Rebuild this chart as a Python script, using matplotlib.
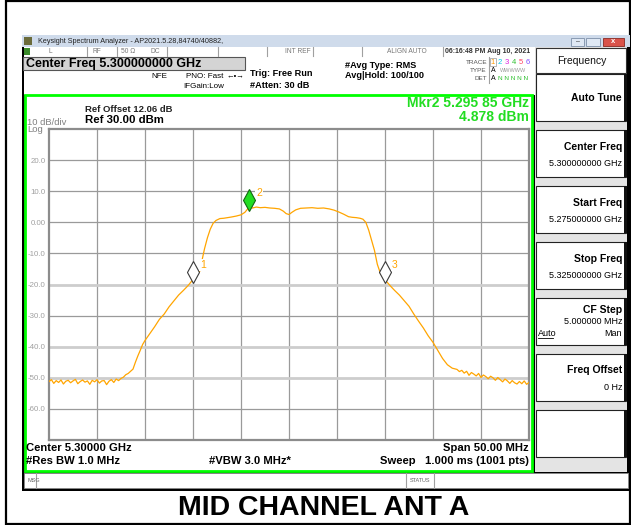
import matplotlib
matplotlib.use("Agg")
import matplotlib.pyplot as plt
from matplotlib.patches import Rectangle
from matplotlib.transforms import ScaledTranslation

plt.rcParams['font.family'] = ['Liberation Sans', 'DejaVu Sans']

# trace (MHz, dBm)
trace_freq_mhz = [
    5275.00, 5275.25, 5275.50, 5275.75, 5276.00, 5276.25, 5276.50, 5276.75,
    5277.00, 5277.25, 5277.50, 5277.75, 5278.00, 5278.25, 5278.50, 5278.75,
    5279.00, 5279.25, 5279.50, 5279.75, 5280.00, 5280.25, 5280.50, 5280.75,
    5281.00, 5281.25, 5281.50, 5281.75, 5282.00, 5282.25,
    5282.50, 5282.75, 5283.00, 5283.25, 5283.50, 5283.75, 5284.00, 5284.25,
    5284.50, 5284.75, 5285.00, 5285.50, 5286.00, 5286.50, 5287.00, 5287.50,
    5288.00, 5288.50, 5289.00, 5289.50, 5290.00, 5290.30, 5290.50, 5290.70,
    5290.90, 5291.20, 5291.50, 5291.80, 5292.10, 5292.40, 5292.80, 5293.20,
    5293.60, 5294.00, 5294.50, 5295.00, 5295.40, 5295.85, 5296.20, 5296.60,
    5297.00, 5297.50, 5298.00, 5298.50, 5299.00, 5299.40, 5299.70, 5300.00,
    5300.30, 5300.70, 5301.20, 5301.80, 5302.40, 5303.00, 5303.60, 5304.20,
    5304.70, 5305.20, 5305.70, 5306.20, 5306.60, 5307.00, 5307.40, 5307.70,
    5308.00, 5308.30, 5308.60, 5308.90, 5309.20, 5309.50, 5309.80, 5310.00,
    5310.30, 5310.60, 5311.00, 5311.50, 5312.00, 5312.50, 5313.00, 5313.50,
    5314.00, 5314.50, 5315.00, 5315.50, 5316.00, 5316.50, 5317.00, 5317.50,
    5317.75, 5318.00, 5318.25, 5318.50, 5318.75, 5319.00, 5319.25, 5319.50,
    5319.75, 5320.00, 5320.25, 5320.50, 5320.75, 5321.00, 5321.25, 5321.50,
    5321.75, 5322.00, 5322.25, 5322.50, 5322.75, 5323.00, 5323.25, 5323.50,
    5323.75, 5324.00, 5324.25, 5324.50, 5324.75, 5325.00,
]
trace_level_dbm = [
    -51.2, -50.6, -51.8, -50.9, -51.5, -50.7, -52.0, -51.1,
    -50.8, -51.6, -51.0, -50.5, -51.9, -51.2, -50.7, -51.4,
    -51.0, -52.1, -50.8, -51.3, -50.6, -51.7, -51.0, -50.9,
    -52.2, -51.1, -50.6, -51.5, -50.4, -50.9,
    -50.2, -49.8, -49.0, -48.6, -47.9, -47.2, -45.0, -43.0,
    -41.2, -39.3, -38.0, -35.8, -33.6, -31.2, -29.5, -27.2,
    -25.3, -23.4, -21.9, -20.3, -18.4, -17.6, -16.2, -15.8,
    -12.8, -8.5, -5.0, -2.2, -0.3, 0.6, 1.2, 1.3,
    1.5, 1.7, 2.0, 2.4, 3.2, 4.88, 4.6, 4.9,
    4.7, 4.8, 4.6, 4.5, 4.3, 3.6, 2.8, 2.5,
    3.2, 4.0, 4.5, 4.6, 4.7, 4.5, 4.6, 4.3,
    3.9, 3.3, 2.6, 1.8, 1.6, 1.5, 1.3, 1.0,
    0.0, -2.5, -5.8, -9.0, -13.5, -16.2, -17.8, -18.5,
    -19.5, -20.6, -21.9, -23.4, -25.2, -27.0, -29.5, -31.8,
    -34.0, -36.5, -38.6, -41.2, -43.8, -45.8, -46.9, -47.3,
    -48.0, -47.6, -48.5, -47.9, -49.2, -48.3, -48.8, -49.4,
    -48.6, -49.9, -49.1, -49.6, -50.3, -49.5, -50.0, -50.8,
    -49.9, -50.6, -51.3, -50.4, -51.0, -51.8, -50.9, -51.6,
    -52.0, -51.2, -51.9, -51.0, -52.1, -51.5,
]

marker_ids = ['1', '2', '3']
marker_freq_mhz = [5290.00, 5295.85, 5310.00]
marker_level_dbm = [-18.4, 4.878, -18.5]
marker_colors = ['white', '#22dd22', 'white']

y_ticks = [-70, -60, -50, -40, -30, -20, -10, 0, 10, 20, 30]
y_tick_labels = ['', '-60.0', '-50.0', '-40.0', '-30.0', '-20.0', '-10.0', '0.00', '10.0', '20.0', '']
x_ticks = [5275, 5280, 5285, 5290, 5295, 5300, 5305, 5310, 5315, 5320, 5325]
light_lines = [-20, -40, -50]

softkeys = [
    ('Center Freq', '5.300000000 GHz'),
    ('Start Freq', '5.275000000 GHz'),
    ('Stop Freq', '5.325000000 GHz'),
]

W, H = 631, 525
fig = plt.figure(figsize=(W / 100, H / 100), dpi=100)
fig.patch.set_facecolor('white')

bg = fig.add_axes([0, 0, 1, 1])
bg.set_xlim(0, W)
bg.set_ylim(H, 0)
bg.axis('off')


def box(x0, y0, x1, y1, fc='white', ec='none', lw=1.0, z=1):
    bg.add_patch(Rectangle((x0, y0), x1 - x0, y1 - y0, facecolor=fc,
                           edgecolor=ec, linewidth=lw, zorder=z))


def txt(x, y, s, size=6, ha='left', weight='normal', color='black', z=5):
    bg.text(x, y, s, fontsize=size, ha=ha, va='center', fontweight=weight,
            color=color, zorder=z)


def vline(x, y0, y1, color='#a0a0a0', lw=0.8):
    bg.plot([x, x], [y0, y1], color=color, lw=lw, zorder=3)


# outer frame
box(6, 1, 629.5, 523.5, fc='white', ec='black', lw=1.6, z=0)

# screenshot frame
box(22, 35, 630, 491, fc='black')
box(22, 35, 630, 47, fc='#cfdbeb')
box(24, 37, 32, 45, fc='#6b6b3a')
txt(38, 41.5, 'Keysight Spectrum Analyzer - AP2021.5.28,84740/40882,', 5.2, color='#222222')
box(571, 37.5, 584, 45.5, fc='#dfe8f4', ec='#7d8fa8', lw=0.6, z=2)
box(586, 37.5, 600, 45.5, fc='#dfe8f4', ec='#7d8fa8', lw=0.6, z=2)
box(603, 37.5, 624, 45.5, fc='#d9534a', ec='#8a2a22', lw=0.6, z=2)
txt(577.5, 41.5, '–', 5, ha='center', color='#333333')
txt(613.5, 41.5, 'x', 5.5, ha='center', weight='bold', color='white')

# status row
box(24, 47, 535, 56, fc='white')
box(24, 48, 30, 55, fc='#3a8a2a')
for xd in [87, 117, 167, 218, 267, 313, 362, 443]:
    vline(xd, 47, 56)
for s, xs in [('L', 50), ('RF', 97), ('50 Ω', 128), ('DC', 155), ('INT REF', 298), ('ALIGN AUTO', 407)]:
    txt(xs, 51.5, s, 4.8, ha='center', color='#777777')
txt(488, 51.5, '06:16:48 PM Aug 10, 2021', 5, ha='center', weight='bold', color='#333333')

# header
box(24, 56, 535, 95, fc='white')
box(23, 57, 245, 69.5, fc='#d4d4d4', ec='#555555', lw=0.8, z=2)
txt(26, 63.5, 'Center Freq 5.300000000 GHz', 9, weight='bold')
txt(151, 76, 'NFE', 5.8)
txt(186, 76, 'PNO: Fast', 5.8)
txt(227, 75.5, '←•→', 5.5)
txt(183, 87, 'IFGain:Low', 5.8)
txt(250, 74, 'Trig: Free Run', 6.6, weight='bold')
txt(250, 86, '#Atten: 30 dB', 6.6, weight='bold')
txt(345, 65, '#Avg Type: RMS', 6.6, weight='bold')
txt(345, 75, 'Avg|Hold: 100/100', 6.6, weight='bold')

txt(487, 62, 'TRACE', 4.6, ha='right', color='#555555')
txt(487, 70, 'TYPE', 4.6, ha='right', color='#555555')
txt(487, 78, 'DET', 4.6, ha='right', color='#555555')
vline(489, 57, 83)
box(490, 57.5, 496, 66, fc='white', ec='#999999', lw=0.5, z=2)
trace_colors = ['#ff9900', '#00c8e8', '#e020e0', '#30c030', '#ff4060', '#8050ff']
for i, c in enumerate(trace_colors):
    txt(493 + i * 7, 62, str(i + 1), 5.5, ha='center', color=c)
txt(493, 70, 'A', 5, ha='center')
txt(513, 70, 'WWWWW', 4, ha='center', color='#999999')
txt(493, 78, 'A', 5, ha='center')
txt(513, 78, 'N N N N N', 4.6, ha='center', color='#30c030')

# green frame with plot area
box(24.5, 95, 532, 471, fc='white', ec='#00ff00', lw=2, z=1)
txt(85, 110, 'Ref Offset 12.06 dB', 6.8, weight='bold', color='#222222')
txt(85, 120, 'Ref 30.00 dBm', 8.2, weight='bold')
txt(27, 122.5, '10 dB/div', 6.8, color='#808080')
txt(27, 130, 'Log', 6.8, color='#808080')
txt(529, 103, 'Mkr2 5.295 85 GHz', 10, ha='right', weight='bold', color='#22dd22')
txt(529, 117, '4.878 dBm', 10, ha='right', weight='bold', color='#22dd22')

txt(26, 448, 'Center 5.30000 GHz', 8.1, weight='bold')
txt(26, 461, '#Res BW 1.0 MHz', 8.1, weight='bold')
txt(250, 461, '#VBW 3.0 MHz*', 8.1, ha='center', weight='bold')
txt(529, 448, 'Span 50.00 MHz', 8.1, ha='right', weight='bold')
txt(529, 461, 'Sweep   1.000 ms (1001 pts)', 8.1, ha='right', weight='bold')

# message bar
box(24, 473, 628, 488, fc='white', ec='#888888', lw=0.6)
vline(36, 473, 488)
vline(406, 473, 488)
vline(434, 473, 488)
txt(27, 480.5, 'MSG', 4, color='#666666')
txt(420, 480.5, 'STATUS', 4, ha='center', color='#666666')

# softkey panel
box(535, 47, 627, 472, fc='#e4e4e4')
box(536, 48, 626, 73, fc='white', ec='#333333', lw=0.8, z=2)
txt(582, 61, 'Frequency', 7.5, ha='center', color='#111111')
key_tops = [74, 130, 186, 242, 298, 354, 410]
for kt in key_tops:
    box(536, kt, 626, kt + 47, fc='white', ec='#222222', lw=0.8, z=2)
    box(624, kt, 627, kt + 47, fc='#111111', z=2)
txt(622, 98, 'Auto Tune', 7.5, ha='right', weight='bold')
for kt, (label, value) in zip(key_tops[1:4], softkeys):
    txt(622, kt + 17, label, 7.5, ha='right', weight='bold')
    txt(622, kt + 33, value, 6.5, ha='right')
txt(622, 310, 'CF Step', 7.5, ha='right', weight='bold')
txt(622, 322, '5.000000 MHz', 6.5, ha='right')
txt(538, 333, 'Auto', 6.5)
bg.plot([538, 553], [337.5, 337.5], color='black', lw=0.6, zorder=5)
txt(622, 333, 'Man', 6.5, ha='right')
txt(622, 370, 'Freq Offset', 7.5, ha='right', weight='bold')
txt(622, 387, '0 Hz', 6.5, ha='right')

# title under the screenshot
bg.text(324, 508, 'MID CHANNEL ANT A', fontsize=20.5, fontweight='bold',
        ha='center', va='center')

# spectrum plot
ax = fig.add_axes([49 / W, (H - 440) / H, 480 / W, 311 / H])
ax.set_facecolor('white')
ax.set_xlim(x_ticks[0], x_ticks[-1])
ax.set_ylim(y_ticks[0], y_ticks[-1])
ax.set_xticks(x_ticks)
ax.set_xticklabels([])
ax.set_yticks(y_ticks)
ax.set_yticklabels(y_tick_labels)
ax.tick_params(length=0)
ax.tick_params(axis='y', pad=2.5, labelsize=5.7, labelcolor='#a0a0a0')
for xv in x_ticks[1:-1]:
    ax.axvline(xv, color='#9a9a9a', lw=0.9, zorder=1)
for yv in y_ticks[1:-1]:
    if yv in light_lines:
        ax.axhline(yv, color='#cdcdcd', lw=2.0, zorder=1)
    else:
        ax.axhline(yv, color='#9a9a9a', lw=0.9, zorder=1)
for sp in ax.spines.values():
    sp.set_color('#8c8c8c')
    sp.set_linewidth(1.6)

ax.plot(trace_freq_mhz, trace_level_dbm, color='#ffa500', lw=0.9, zorder=3)

lift = ax.transData + ScaledTranslation(0, 7.5 / 100, fig.dpi_scale_trans)
for mid, mf, ml, mc in zip(marker_ids, marker_freq_mhz, marker_level_dbm, marker_colors):
    ax.plot([mf], [ml], marker='d', markersize=11, markerfacecolor=mc,
            markeredgecolor='#3a3a3a' if mc == 'white' else '#116611',
            markeredgewidth=0.8, linestyle='none', transform=lift, zorder=5)
    ax.annotate(mid, (mf, ml), xytext=(5, 10.5), textcoords='offset points',
                color='#ffa500', fontsize=7.5, va='center', zorder=6,
                bbox=dict(facecolor='white', edgecolor='none', pad=0.5))

fig.savefig('out.png', dpi=100)
